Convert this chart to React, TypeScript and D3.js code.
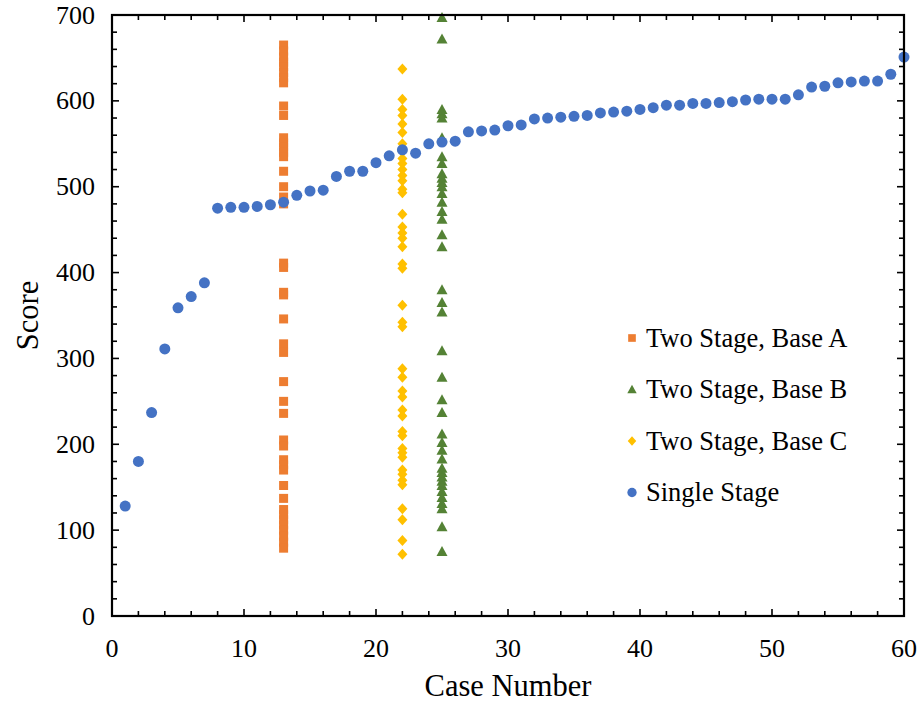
import React from "react";
import * as d3 from "d3";

// Single-stage scores for case numbers 1..60
const singleCases = d3.range(1, 61);
const singleScores = [
  128, 180, 237, 311, 359, 372, 388, 475, 476, 476,
  477, 479, 482, 490, 495, 496, 512, 518, 518, 528,
  536, 543, 539, 550, 552, 553, 564, 565, 566, 571,
  572, 579, 580, 581, 582, 583, 586, 587, 588, 590,
  592, 595, 595, 597, 597, 598, 599, 601, 602, 602,
  602, 607, 616, 617, 621, 622, 623, 623, 631, 651,
];

// Two-stage scores, each base evaluated at one case number
const baseACase = 13;
const baseAScores = [
  665, 658, 651, 645, 640, 633, 627, 621, 594, 583, 557, 551, 546, 540, 535,
  518, 500, 488, 480, 411, 406, 377, 374, 346, 317, 307, 273, 250, 236, 205,
  198, 182, 176, 170, 152, 137, 124, 118, 112, 106, 100, 93, 86, 79,
];
const baseBCase = 25;
const baseBScores = [
  697, 672, 590, 585, 580, 557, 535, 527, 515, 510, 505, 500, 492, 482, 471,
  462, 444, 430, 380, 365, 354, 309, 278, 252, 237, 212, 202, 193, 183, 172,
  167, 162, 157, 152, 145, 138, 131, 125, 104, 75,
];
const baseCCase = 22;
const baseCScores = [
  637, 602, 590, 583, 573, 563, 550, 541, 533, 527, 520, 513, 507, 497, 493,
  468, 453, 446, 440, 430, 410, 405, 362, 342, 337, 288, 278, 262, 255, 240,
  233, 215, 210, 195, 190, 185, 170, 165, 158, 153, 125, 112, 88, 72,
];

const xTicks = [0, 10, 20, 30, 40, 50, 60];
const yTicks = [0, 100, 200, 300, 400, 500, 600, 700];
const legendLabels = [
  "Two Stage, Base A",
  "Two Stage, Base B",
  "Two Stage, Base C",
  "Single Stage",
];

const W = 919;
const H = 704;
const M = { left: 112, right: 15, top: 15, bottom: 88 };
const FONT = "'Liberation Serif', 'Times New Roman', serif";

const ORANGE = "#ED7D31";
const GREEN = "#548235";
const GOLD = "#FFC000";
const BLUE = "#4472C4";

type Shape = "square" | "triangle" | "diamond" | "circle";

function Marker({
  shape,
  x,
  y,
  color,
  k = 1,
}: {
  shape: Shape;
  x: number;
  y: number;
  color: string;
  k?: number;
}) {
  if (shape === "square") {
    const s = 4.5 * k;
    return <rect x={x - s} y={y - s} width={2 * s} height={2 * s} fill={color} />;
  }
  if (shape === "triangle") {
    const a = 5.5 * k;
    const b = 4.5 * k;
    return <path d={`M${x},${y - a}L${x + a},${y + b}L${x - a},${y + b}Z`} fill={color} />;
  }
  if (shape === "diamond") {
    const a = 5.5 * k;
    const b = 5 * k;
    return <path d={`M${x},${y - a}L${x + b},${y}L${x},${y + a}L${x - b},${y}Z`} fill={color} />;
  }
  return <circle cx={x} cy={y} r={5.5 * k} fill={color} />;
}

export default function App() {
  const x = d3.scaleLinear().domain([0, 60]).range([M.left, W - M.right]);
  const y = d3.scaleLinear().domain([0, 700]).range([H - M.bottom, M.top]);
  const [x0, x1] = x.range();
  const [y0, y1] = y.range();

  const xMinor = d3.range(0, 61, 2);
  const yMinor = d3.range(0, 701, 20);

  const series: { shape: Shape; color: string; pts: [number, number][] }[] = [
    { shape: "square", color: ORANGE, pts: baseAScores.map((v) => [baseACase, v]) },
    { shape: "triangle", color: GREEN, pts: baseBScores.map((v) => [baseBCase, v]) },
    { shape: "diamond", color: GOLD, pts: baseCScores.map((v) => [baseCCase, v]) },
    { shape: "circle", color: BLUE, pts: singleCases.map((c, i) => [c, singleScores[i]]) },
  ];
  const legendOrder: { shape: Shape; color: string }[] = [
    { shape: "square", color: ORANGE },
    { shape: "triangle", color: GREEN },
    { shape: "diamond", color: GOLD },
    { shape: "circle", color: BLUE },
  ];

  return (
    <svg
      width={W}
      height={H}
      style={{ position: "absolute", left: 0, top: 0, background: "#fff" }}
      fontFamily={FONT}
    >
      {/* data */}
      {series.map((s, si) => (
        <g key={si}>
          {s.pts.map(([cx, cy], i) => (
            <Marker key={i} shape={s.shape} x={x(cx)} y={y(cy)} color={s.color} />
          ))}
        </g>
      ))}

      {/* inward ticks on all four sides */}
      <g stroke="#000" strokeWidth={1.6}>
        {xMinor.map((t) => {
          const len = t % 10 === 0 ? 7 : 5;
          return (
            <g key={"x" + t}>
              <line x1={x(t)} x2={x(t)} y1={y0} y2={y0 - len} />
              <line x1={x(t)} x2={x(t)} y1={y1} y2={y1 + len} />
            </g>
          );
        })}
        {yMinor.map((t) => {
          const len = t % 100 === 0 ? 7 : 5;
          return (
            <g key={"y" + t}>
              <line x1={x0} x2={x0 + len} y1={y(t)} y2={y(t)} />
              <line x1={x1} x2={x1 - len} y1={y(t)} y2={y(t)} />
            </g>
          );
        })}
      </g>
      <rect
        x={x0}
        y={y1}
        width={x1 - x0}
        height={y0 - y1}
        fill="none"
        stroke="#000"
        strokeWidth={2.2}
      />

      {/* tick labels */}
      <g fontSize={26} fill="#000">
        {xTicks.map((t) => (
          <text key={t} x={x(t)} y={y0 + 41} textAnchor="middle">
            {t}
          </text>
        ))}
        {yTicks.map((t) => (
          <text key={t} x={x0 - 17} y={y(t)} dy="0.33em" textAnchor="end">
            {t}
          </text>
        ))}
      </g>

      {/* axis titles */}
      <text x={(x0 + x1) / 2} y={H - 8} textAnchor="middle" fontSize={30.5} fill="#000">
        Case Number
      </text>
      <text
        transform={`translate(38,${(y0 + y1) / 2}) rotate(-90)`}
        textAnchor="middle"
        fontSize={30.5}
        fill="#000"
      >
        Score
      </text>

      {/* legend */}
      <g>
        {legendLabels.map((lab, i) => {
          const ly = 338 + i * 51.5;
          return (
            <g key={lab}>
              <Marker
                shape={legendOrder[i].shape}
                x={632}
                y={ly}
                color={legendOrder[i].color}
                k={0.85}
              />
              <text x={646} y={ly} dy="0.33em" fontSize={26.5} fill="#000">
                {lab}
              </text>
            </g>
          );
        })}
      </g>
    </svg>
  );
}
